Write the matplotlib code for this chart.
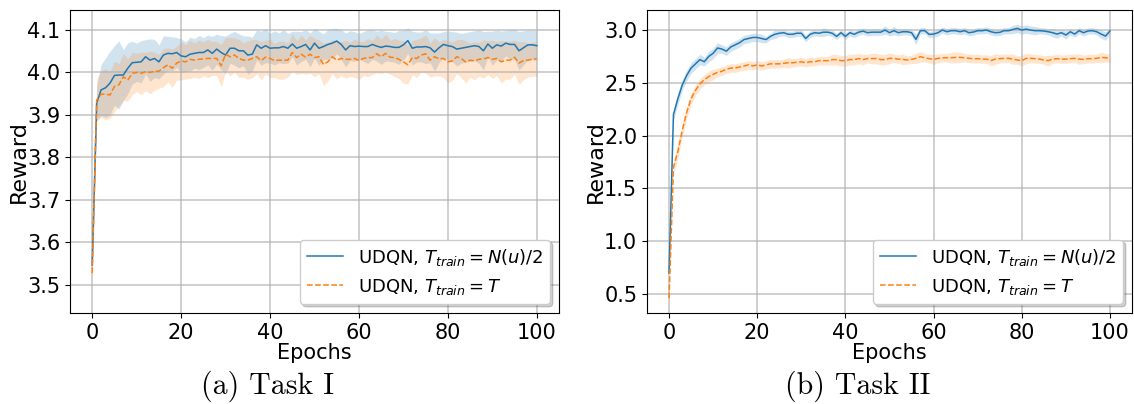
import numpy as np
import matplotlib.pyplot as plt

# epochs
epochs = np.arange(0, 101)

# Task I, UDQN T_train = N(u)/2
task1_half = [3.547, 3.928, 3.959, 3.964, 3.975, 3.993, 3.994, 3.994, 4.010, 4.023,
              4.024, 4.025, 4.037, 4.029, 4.033, 4.025, 4.041, 4.045, 4.044, 4.047,
              4.039, 4.037, 4.043, 4.045, 4.047, 4.047, 4.053, 4.045, 4.055, 4.047,
              4.041, 4.057, 4.057, 4.051, 4.051, 4.041, 4.043, 4.065, 4.057, 4.063,
              4.057, 4.058, 4.058, 4.061, 4.057, 4.067, 4.057, 4.061, 4.066, 4.053,
              4.069, 4.057, 4.061, 4.066, 4.069, 4.074, 4.066, 4.053, 4.063, 4.061,
              4.062, 4.061, 4.061, 4.066, 4.062, 4.059, 4.062, 4.061, 4.059, 4.059,
              4.065, 4.075, 4.057, 4.060, 4.060, 4.061, 4.058, 4.048, 4.058, 4.066,
              4.063, 4.061, 4.055, 4.057, 4.059, 4.061, 4.063, 4.061, 4.051, 4.067,
              4.057, 4.065, 4.062, 4.069, 4.066, 4.066, 4.051, 4.058, 4.065, 4.065, 4.063]
task1_half_sd = [0.010, 0.040, 0.060, 0.070, 0.075, 0.070, 0.080, 0.060, 0.060, 0.050,
                 0.045, 0.050, 0.040, 0.050, 0.045, 0.040, 0.045, 0.040, 0.040, 0.035,
                 0.040, 0.035, 0.040, 0.035, 0.040, 0.035, 0.035, 0.040, 0.035, 0.040,
                 0.045, 0.035, 0.040, 0.040, 0.035, 0.045, 0.040, 0.035, 0.040, 0.040,
                 0.035, 0.040, 0.035, 0.040, 0.035, 0.030, 0.040, 0.035, 0.035, 0.040,
                 0.035, 0.040, 0.030, 0.035, 0.035, 0.030, 0.035, 0.040, 0.035, 0.035,
                 0.030, 0.035, 0.040, 0.035, 0.035, 0.040, 0.035, 0.035, 0.035, 0.040,
                 0.035, 0.030, 0.040, 0.035, 0.035, 0.040, 0.035, 0.045, 0.035, 0.030,
                 0.035, 0.035, 0.040, 0.035, 0.035, 0.035, 0.035, 0.040, 0.045, 0.030,
                 0.040, 0.035, 0.035, 0.030, 0.035, 0.035, 0.045, 0.040, 0.035, 0.035, 0.035]

# Task I, UDQN T_train = T
task1_full = [3.528, 3.935, 3.949, 3.949, 3.947, 3.967, 3.971, 3.990, 3.982, 3.998,
              4.000, 3.998, 4.002, 4.000, 4.003, 4.003, 4.011, 4.018, 4.010, 4.022,
              4.027, 4.025, 4.031, 4.029, 4.031, 4.032, 4.033, 4.033, 4.033, 4.016,
              4.043, 4.037, 4.041, 4.033, 4.029, 4.029, 4.033, 4.037, 4.028, 4.036,
              4.033, 4.028, 4.029, 4.029, 4.029, 4.047, 4.035, 4.043, 4.036, 4.043,
              4.035, 4.037, 4.019, 4.025, 4.037, 4.029, 4.033, 4.031, 4.031, 4.033,
              4.028, 4.033, 4.035, 4.035, 4.044, 4.037, 4.045, 4.036, 4.035, 4.031,
              4.025, 4.018, 4.035, 4.033, 4.041, 4.044, 4.029, 4.037, 4.032, 4.033,
              4.025, 4.027, 4.037, 4.033, 4.025, 4.029, 4.027, 4.031, 4.032, 4.035,
              4.031, 4.033, 4.025, 4.029, 4.029, 4.036, 4.022, 4.028, 4.029, 4.031, 4.032]
task1_full_sd = [0.010, 0.050, 0.055, 0.060, 0.055, 0.060, 0.050, 0.055, 0.050, 0.050,
                 0.045, 0.050, 0.045, 0.050, 0.045, 0.040, 0.045, 0.040, 0.045, 0.040,
                 0.045, 0.040, 0.045, 0.040, 0.045, 0.040, 0.045, 0.040, 0.040, 0.050,
                 0.040, 0.045, 0.040, 0.045, 0.040, 0.045, 0.045, 0.040, 0.045, 0.040,
                 0.045, 0.040, 0.045, 0.045, 0.040, 0.045, 0.040, 0.045, 0.040, 0.045,
                 0.045, 0.040, 0.050, 0.045, 0.040, 0.045, 0.040, 0.045, 0.040, 0.045,
                 0.045, 0.040, 0.045, 0.040, 0.045, 0.040, 0.045, 0.040, 0.045, 0.045,
                 0.050, 0.045, 0.040, 0.045, 0.040, 0.045, 0.040, 0.045, 0.040, 0.045,
                 0.050, 0.045, 0.040, 0.045, 0.050, 0.040, 0.045, 0.040, 0.045, 0.040,
                 0.045, 0.040, 0.050, 0.045, 0.045, 0.040, 0.050, 0.045, 0.040, 0.040, 0.040]

# Task II, UDQN T_train = N(u)/2
task2_half = [0.700, 2.200, 2.350, 2.480, 2.570, 2.640, 2.680, 2.720, 2.700, 2.750,
              2.780, 2.830, 2.820, 2.800, 2.840, 2.860, 2.880, 2.910, 2.920, 2.930,
              2.930, 2.920, 2.910, 2.940, 2.960, 2.970, 2.975, 2.960, 2.960, 2.970,
              2.970, 2.920, 2.960, 2.975, 2.970, 2.980, 2.980, 2.970, 2.940, 2.975,
              2.940, 2.975, 2.960, 2.980, 2.990, 2.975, 2.980, 2.980, 2.980, 3.000,
              2.975, 2.994, 2.975, 2.984, 2.984, 2.975, 2.912, 2.994, 2.994, 2.959,
              2.962, 2.975, 3.000, 2.984, 2.994, 2.994, 2.984, 2.994, 2.975, 2.981,
              2.994, 2.994, 3.000, 2.984, 2.975, 2.978, 2.994, 2.994, 3.006, 3.016,
              3.000, 3.009, 3.000, 2.994, 2.994, 2.991, 2.984, 2.975, 2.962, 2.975,
              2.953, 2.984, 2.962, 2.994, 2.975, 2.991, 2.994, 2.984, 2.962, 2.943, 2.991]
task2_half_sd = [0.02, 0.05, 0.06, 0.05, 0.05, 0.05, 0.05, 0.05, 0.04, 0.05,
                 0.05, 0.05, 0.04, 0.04, 0.04, 0.04, 0.04, 0.04, 0.04, 0.04,
                 0.04, 0.04, 0.03, 0.03, 0.04, 0.03, 0.03, 0.03, 0.03, 0.03,
                 0.03, 0.03, 0.03, 0.03, 0.03, 0.04, 0.03, 0.03, 0.03, 0.03,
                 0.03, 0.03, 0.03, 0.03, 0.03, 0.03, 0.03, 0.03, 0.03, 0.04,
                 0.03, 0.04, 0.03, 0.03, 0.03, 0.03, 0.05, 0.03, 0.03, 0.03,
                 0.03, 0.03, 0.03, 0.03, 0.03, 0.03, 0.03, 0.03, 0.03, 0.03,
                 0.03, 0.03, 0.03, 0.03, 0.03, 0.03, 0.03, 0.03, 0.04, 0.04,
                 0.04, 0.04, 0.04, 0.04, 0.03, 0.03, 0.03, 0.04, 0.04, 0.03,
                 0.04, 0.03, 0.03, 0.03, 0.03, 0.03, 0.03, 0.03, 0.04, 0.04, 0.03]

# Task II, UDQN T_train = T
task2_full = [0.460, 1.700, 1.850, 2.050, 2.220, 2.350, 2.430, 2.490, 2.530, 2.560,
              2.580, 2.600, 2.610, 2.630, 2.640, 2.640, 2.650, 2.660, 2.670, 2.660,
              2.670, 2.660, 2.670, 2.680, 2.680, 2.680, 2.685, 2.690, 2.690, 2.695,
              2.700, 2.690, 2.700, 2.700, 2.710, 2.710, 2.710, 2.720, 2.720, 2.710,
              2.710, 2.720, 2.720, 2.730, 2.720, 2.730, 2.730, 2.730, 2.720, 2.720,
              2.732, 2.732, 2.725, 2.722, 2.716, 2.722, 2.732, 2.747, 2.738, 2.729,
              2.722, 2.732, 2.738, 2.738, 2.738, 2.741, 2.741, 2.738, 2.732, 2.729,
              2.729, 2.725, 2.725, 2.710, 2.725, 2.729, 2.732, 2.732, 2.725, 2.716,
              2.710, 2.732, 2.732, 2.729, 2.725, 2.716, 2.710, 2.725, 2.729, 2.725,
              2.725, 2.729, 2.732, 2.725, 2.722, 2.729, 2.729, 2.732, 2.741, 2.738, 2.732]
task2_full_sd = [0.03, 0.06, 0.07, 0.06, 0.06, 0.05, 0.05, 0.05, 0.05, 0.05,
                 0.05, 0.04, 0.04, 0.04, 0.04, 0.04, 0.04, 0.04, 0.04, 0.04,
                 0.04, 0.04, 0.04, 0.04, 0.04, 0.04, 0.04, 0.05, 0.04, 0.04,
                 0.04, 0.04, 0.04, 0.04, 0.04, 0.04, 0.04, 0.05, 0.05, 0.05,
                 0.05, 0.05, 0.05, 0.05, 0.05, 0.04, 0.05, 0.05, 0.05, 0.05,
                 0.05, 0.04, 0.04, 0.05, 0.04, 0.04, 0.05, 0.05, 0.04, 0.04,
                 0.05, 0.04, 0.04, 0.04, 0.05, 0.05, 0.05, 0.04, 0.04, 0.04,
                 0.04, 0.04, 0.04, 0.05, 0.05, 0.04, 0.04, 0.04, 0.05, 0.04,
                 0.05, 0.05, 0.04, 0.04, 0.04, 0.04, 0.05, 0.04, 0.04, 0.04,
                 0.04, 0.04, 0.04, 0.05, 0.04, 0.04, 0.04, 0.04, 0.05, 0.04, 0.04]

labels = [r'UDQN, $T_{train} = N(u)/2$', r'UDQN, $T_{train} = T$']
captions = ['(a) Task I', '(b) Task II']
yticks1 = [3.5, 3.6, 3.7, 3.8, 3.9, 4.0, 4.1]
yticks2 = [0.5, 1.0, 1.5, 2.0, 2.5, 3.0]

fig = plt.figure(figsize=(11.34, 4.04), dpi=100)
ax1 = fig.add_axes([70 / 1134, 91 / 404, 489 / 1134, 303 / 404])
ax2 = fig.add_axes([647 / 1134, 91 / 404, 485 / 1134, 303 / 404])

panels = [(ax1, task1_half, task1_half_sd, task1_full, task1_full_sd, yticks1, (3.434, 4.147)),
          (ax2, task2_half, task2_half_sd, task2_full, task2_full_sd, yticks2, (0.32, 3.19))]

for ax, m1, s1, m2, s2, yt, yl in panels:
    m1 = np.array(m1); s1 = np.array(s1)
    m2 = np.array(m2); s2 = np.array(s2)
    ax.plot(epochs, m1, color='C0', lw=1.1, label=labels[0])
    ax.fill_between(epochs, m1 - s1, m1 + s1, color='C0', alpha=0.2, lw=0)
    ax.plot(epochs, m2, color='C1', lw=1.1, ls='--', label=labels[1])
    ax.fill_between(epochs, m2 - s2, m2 + s2, color='C1', alpha=0.2, lw=0)
    ax.set_xlim(-5, 105)
    ax.set_ylim(*yl)
    ax.set_yticks(yt)
    ax.set_xticks([0, 20, 40, 60, 80, 100])
    ax.grid(True, color='#b0b0b0', alpha=0.7, lw=1.2)
    ax.tick_params(labelsize=15)
    ax.set_xlabel('Epochs', fontsize=15, labelpad=0)
    ax.set_ylabel('Reward', fontsize=16, labelpad=-1)
    ax.legend(loc='lower right', fontsize=13, framealpha=1,
              shadow={'alpha': 0.25})

fig.text(0.236, 0.045, captions[0], fontsize=21.5, family='cmr10', ha='center', va='center')
fig.text(0.756, 0.045, captions[1], fontsize=21.5, family='cmr10', ha='center', va='center')

fig.savefig('out.png', dpi=100)
